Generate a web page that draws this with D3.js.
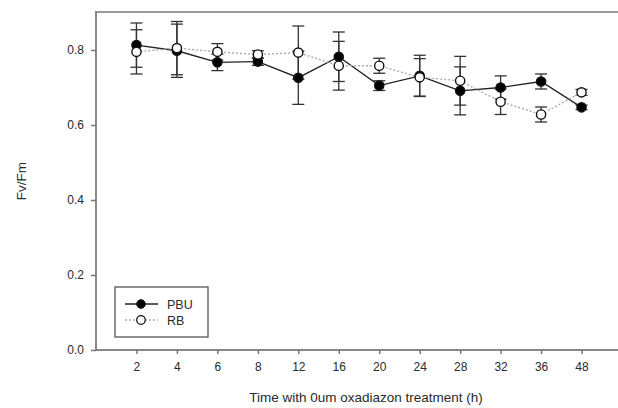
<!DOCTYPE html>
<html>
<head>
<meta charset="utf-8">
<script src="https://cdn.jsdelivr.net/npm/d3@7"></script>
<style>
  body { margin: 0; background: #fff; }
  text { font-family: "Liberation Sans", Arial, sans-serif; fill: #2a2a2a; }
</style>
</head>
<body>
<div id="graph"></div>
<script>
// hours of treatment (categorical axis)
var times = ["2", "4", "6", "8", "12", "16", "20", "24", "28", "32", "36", "48"];
var pbu = [0.813, 0.798, 0.767, 0.769, 0.726, 0.782, 0.705, 0.731, 0.691, 0.700, 0.716, 0.647];
var pbuErr = [0.059, 0.071, 0.022, 0.010, 0.071, 0.066, 0.013, 0.055, 0.064, 0.031, 0.020, 0.006];
var rb = [0.795, 0.805, 0.795, 0.788, 0.793, 0.758, 0.758, 0.727, 0.718, 0.662, 0.628, 0.687];
var rbErr = [0.059, 0.071, 0.022, 0.010, 0.071, 0.065, 0.020, 0.050, 0.065, 0.034, 0.020, 0.008];
var yTicks = [0, 0.2, 0.4, 0.6, 0.8];

var w = 618, h = 408;
// plot edges (note: "top" is taken by window.top, so use pTop)
var pLeft = 96, pTop = 12, pBottom = 350, pRight = 622;

var svg = d3.select("#graph").append("svg")
    .attr("width", w)
    .attr("height", h);

var x = d3.scalePoint().domain(times).range([pLeft, pRight]).padding(1);
var y = d3.scaleLinear().domain([0, 0.9013]).range([pBottom, pTop]);

// frame top line
svg.append("line")
    .attr("x1", pLeft).attr("x2", w)
    .attr("y1", pTop).attr("y2", pTop)
    .attr("stroke", "#999").attr("stroke-width", 2);

var yAxis = svg.append("g")
    .attr("transform", "translate(" + pLeft + ",0)")
    .call(d3.axisLeft(y).tickValues(yTicks).tickFormat(d3.format(".1f")).tickSize(5).tickSizeOuter(0));
var xAxis = svg.append("g")
    .attr("transform", "translate(0," + pBottom + ")")
    .call(d3.axisBottom(x).tickSize(4).tickSizeOuter(0));

[yAxis, xAxis].forEach(function(a) {
    a.select(".domain").attr("stroke", "#888").attr("stroke-width", 2);
    a.selectAll(".tick line").attr("stroke", "#777").attr("stroke-width", 1.5);
    a.selectAll(".tick text").attr("font-size", 12).attr("fill", "#3a3a3a")
        .style("font-family", "Liberation Sans, Arial, sans-serif");
});
yAxis.select(".domain").attr("d", "M0," + (pTop - 1) + "V" + pBottom);
xAxis.select(".domain").attr("d", "M" + pLeft + ",0H" + w);
yAxis.selectAll(".tick text").attr("x", -12);
xAxis.selectAll(".tick text").attr("y", 12);

svg.append("text")
    .attr("x", 366).attr("y", 402)
    .attr("text-anchor", "middle")
    .attr("font-size", 13.5)
    .text("Time with 0um oxadiazon treatment (h)");

svg.append("text")
    .attr("transform", "translate(26,181) rotate(-90)")
    .attr("text-anchor", "middle")
    .attr("font-size", 13.5)
    .text("Fv/Fm");

function series(vals, errs, opts) {
    var g = svg.append("g");
    var pts = times.map(function(t, i) { return {t: t, v: vals[i], e: errs[i]}; });

    var eb = g.selectAll("g.err").data(pts).enter().append("g").attr("class", "err")
        .attr("stroke", "#333").attr("stroke-width", 1.3);
    eb.append("line")
        .attr("x1", function(d) { return x(d.t); }).attr("x2", function(d) { return x(d.t); })
        .attr("y1", function(d) { return y(d.v + d.e); }).attr("y2", function(d) { return y(d.v - d.e); });
    [1, -1].forEach(function(s) {
        eb.append("line")
            .attr("x1", function(d) { return x(d.t) - 6; }).attr("x2", function(d) { return x(d.t) + 6; })
            .attr("y1", function(d) { return y(d.v + s * d.e); }).attr("y2", function(d) { return y(d.v + s * d.e); });
    });

    g.append("path")
        .datum(pts)
        .attr("fill", "none")
        .attr("stroke", opts.line)
        .attr("stroke-width", opts.width)
        .attr("stroke-dasharray", opts.dash)
        .attr("d", d3.line().x(function(d) { return x(d.t); }).y(function(d) { return y(d.v); }));
    return {g: g, pts: pts};
}

var s1 = series(pbu, pbuErr, {line: "#222", width: 1.4, dash: null});
var s2 = series(rb, rbErr, {line: "#aaa", width: 1.4, dash: "2,2"});

function markers(s, fill) {
    svg.append("g").selectAll("circle").data(s.pts).enter().append("circle")
        .attr("cx", function(d) { return x(d.t); })
        .attr("cy", function(d) { return y(d.v); })
        .attr("r", 4.6)
        .attr("fill", fill)
        .attr("stroke", "#111")
        .attr("stroke-width", 1.4);
}
markers(s1, "#000");
markers(s2, "#fff");

// legend
var lg = svg.append("g");
lg.append("rect")
    .attr("x", 115).attr("y", 287).attr("width", 93).attr("height", 50)
    .attr("fill", "#fff").attr("stroke", "#555").attr("stroke-width", 1.3);
lg.append("line").attr("x1", 125).attr("x2", 158).attr("y1", 304).attr("y2", 304)
    .attr("stroke", "#222").attr("stroke-width", 1.4);
lg.append("circle").attr("cx", 141).attr("cy", 304).attr("r", 4.3)
    .attr("fill", "#000").attr("stroke", "#111");
lg.append("line").attr("x1", 125).attr("x2", 158).attr("y1", 320).attr("y2", 320)
    .attr("stroke", "#aaa").attr("stroke-width", 1.4).attr("stroke-dasharray", "2,2");
lg.append("circle").attr("cx", 141).attr("cy", 320).attr("r", 4.3)
    .attr("fill", "#fff").attr("stroke", "#111").attr("stroke-width", 1.3);
lg.append("text").attr("x", 167).attr("y", 308.5).attr("font-size", 12.5).text("PBU");
lg.append("text").attr("x", 167).attr("y", 324.5).attr("font-size", 12.5).text("RB");
</script>
</body>
</html>
